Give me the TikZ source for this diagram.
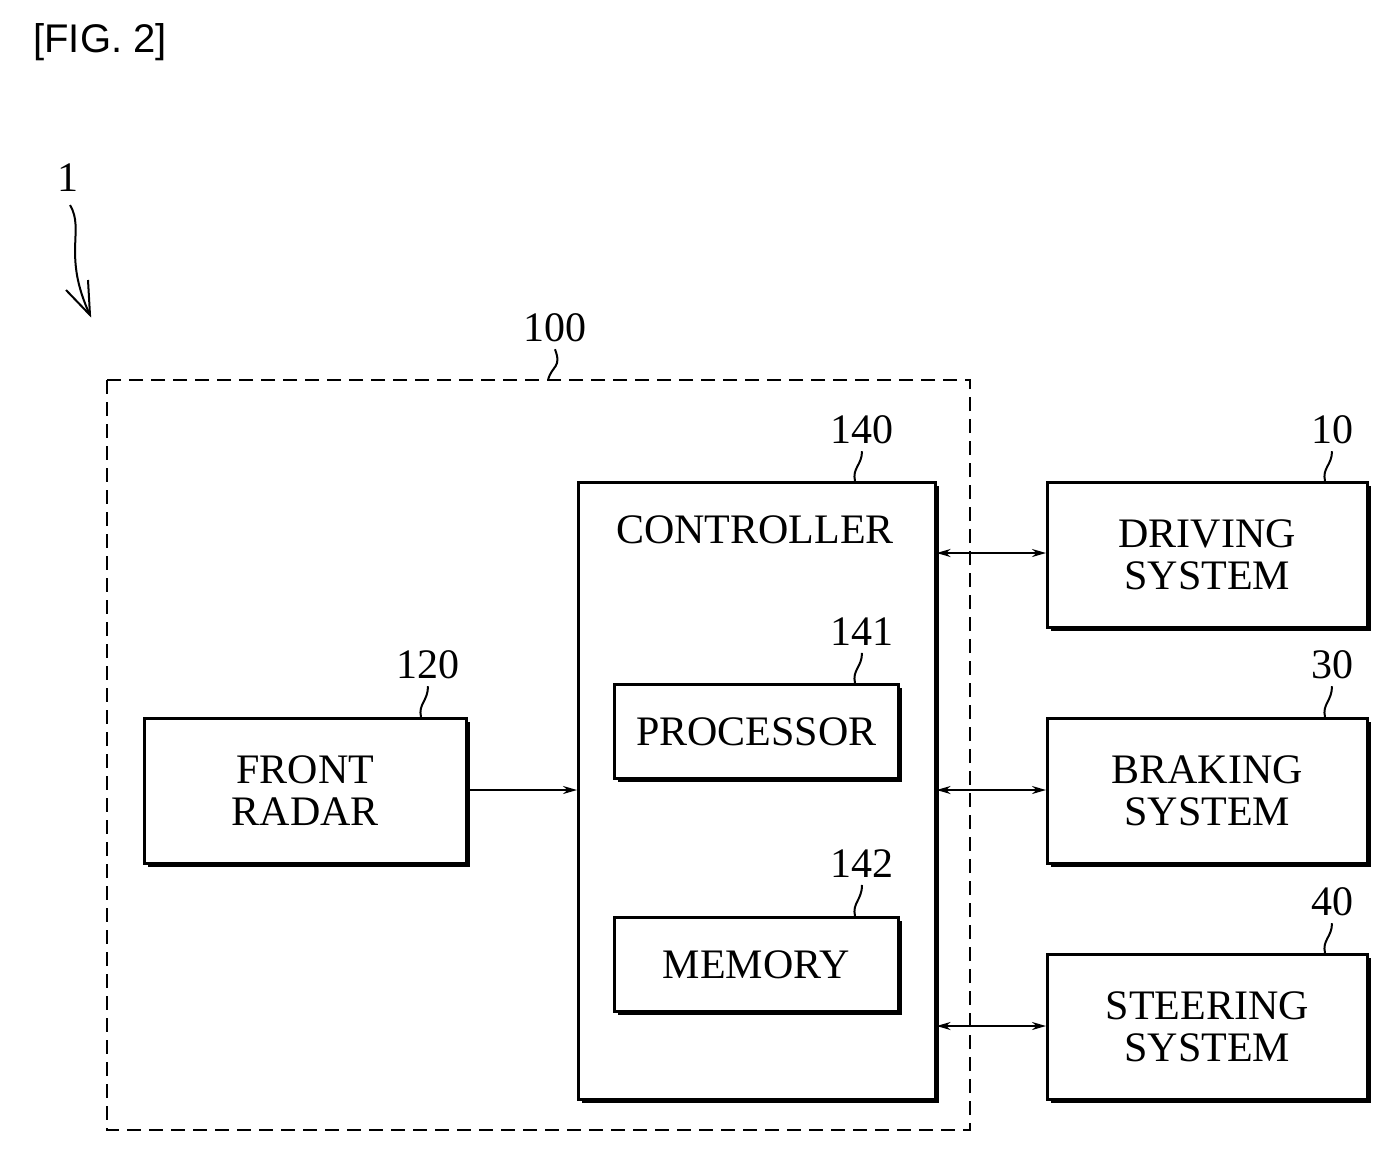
\documentclass[tikz,border=0pt]{standalone}
\usepackage{fontspec}
\setmainfont{Liberation Serif}
\newfontfamily\figfont{Liberation Sans}
\usetikzlibrary{arrows.meta}
\begin{document}
\begin{tikzpicture}[x=0.5pt,y=-0.5pt,
 box/.style={draw,line width=1.3pt,fill=white,inner sep=0pt,align=center,font=\fontsize{21}{24}\selectfont},
 lbl/.style={font=\fontsize{21}{24}\selectfont},
 lead/.style={line width=1pt},
 arr/.style={line width=1pt,-{Stealth[length=7pt,width=4pt]}},
 barr/.style={line width=1pt,{Stealth[length=7pt,width=4pt]}-{Stealth[length=7pt,width=4pt]}}]
\useasboundingbox (0,0) rectangle (1393,1152);
\newcommand{\shbox}[6]{% name, x1,y1,x2,y2,text
 \fill (#2+5,#3+5) rectangle (#4+5,#5+5);
 \node[box,minimum width=(#4-#2)*0.5pt,minimum height=(#5-#3)*0.5pt,anchor=north west] (#1) at (#2,#3) {#6};}
\node[font=\figfont\fontsize{20}{24}\selectfont] (fig) at (100,42) {[FIG. 2]};
\draw[dashed,line width=1pt,dash pattern=on 7pt off 4pt] (107,380) rectangle (970,1130);
\coordinate (dtop) at (548,380);
\shbox{ctrl}{577}{481}{934}{1098}{}
\node[lbl] (ctext) at (755,530) {CONTROLLER};
\shbox{proc}{613}{683}{897}{777}{PROCESSOR}
\shbox{mem}{613}{916}{897}{1010}{MEMORY}
\shbox{radar}{143}{717}{465}{862}{FRONT\\[-3pt]RADAR}
\shbox{drv}{1046}{481}{1366}{626}{DRIVING\\[-3pt]SYSTEM}
\shbox{brk}{1046}{717}{1366}{862}{BRAKING\\[-3pt]SYSTEM}
\shbox{str}{1046}{953}{1366}{1098}{STEERING\\[-3pt]SYSTEM}
\draw[arr] (radar.east |- 0,790) -- (ctrl.west |- 0,790);
\draw[barr] (ctrl.east |- 0,553) -- (drv.west |- 0,553);
\draw[barr] (ctrl.east |- 0,790) -- (brk.west |- 0,790);
\draw[barr] (ctrl.east |- 0,1026) -- (str.west |- 0,1026);
% labels
\node[lbl] (l1) at (68,178) {1};
\node[lbl] (l100) at (555,328) {100};
\node[lbl] (l140) at (862,430) {140};
\node[lbl] (l120) at (428,665) {120};
\node[lbl] (l141) at (862,632) {141};
\node[lbl] (l142) at (862,864) {142};
\node[lbl] (l10) at (1332,430) {10};
\node[lbl] (l30) at (1332,665) {30};
\node[lbl] (l40) at (1332,902) {40};
\draw[lead] (dtop) .. controls (552,365) and (562,368) .. (l100.south);
\draw[lead] (855,481) .. controls (852,468) and (862,465) .. (l140.south);
\draw[lead] (421,717) .. controls (418,704) and (428,701) .. (l120.south);
\draw[lead] (855,683) .. controls (852,670) and (862,667) .. (l141.south);
\draw[lead] (855,916) .. controls (852,903) and (862,900) .. (l142.south);
\draw[lead] (1325,481) .. controls (1322,468) and (1332,465) .. (l10.south);
\draw[lead] (1325,717) .. controls (1322,704) and (1332,701) .. (l30.south);
\draw[lead] (1325,953) .. controls (1322,940) and (1332,937) .. (l40.south);
\coordinate (tip) at (90,315);
\draw[line width=1pt] (70,205) .. controls (85,230) and (62,255) .. (tip);
\draw[line width=1pt] (66,290) -- (tip) -- (88,280);
\end{tikzpicture}
\end{document}
